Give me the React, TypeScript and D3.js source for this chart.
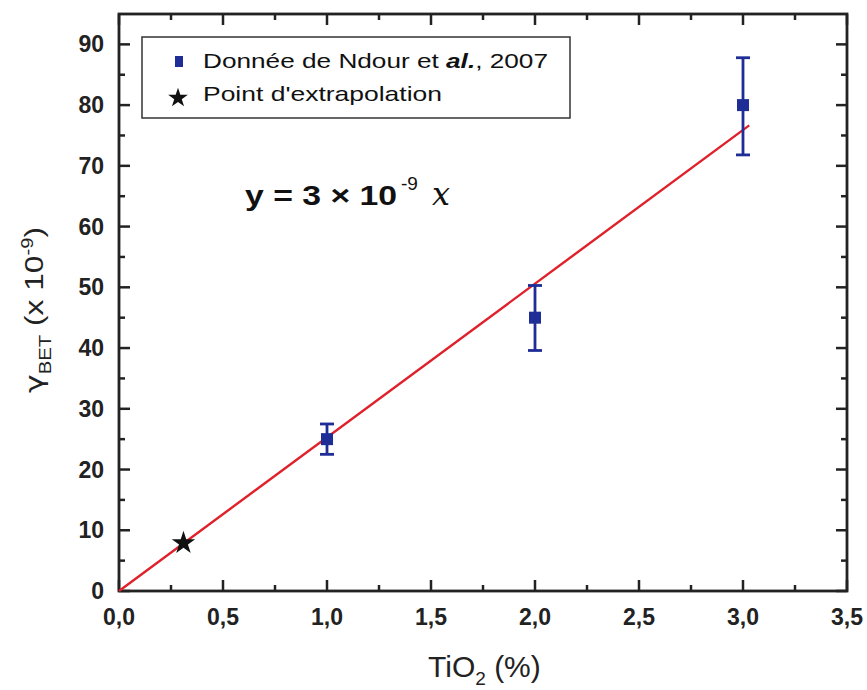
import React from "react";
import * as d3 from "d3";

const xData = [1, 2, 3];
const yData = [25, 45, 80];
const errLow = [22.5, 39.6, 71.8];
const errHigh = [27.5, 50.3, 87.8];
const starX = [0.31];
const starY = [7.9];
const fitSlope = 25.3;
const fitRange = [0, 3.03];
const xTicks = [0, 0.5, 1, 1.5, 2, 2.5, 3, 3.5];
const yTicks = [0, 10, 20, 30, 40, 50, 60, 70, 80, 90];

const W = 867, H = 690;
const M = { left: 119, right: 847, top: 14, bottom: 591 };

export default function App() {
  const x = d3.scaleLinear().domain([0, 3.5]).range([M.left, M.right]);
  const y = d3.scaleLinear().domain([0, 95]).range([M.bottom, M.top]);
  const xMinor = d3.range(0.25, 3.5, 0.5);
  const yMinor = d3.range(5, 95, 10);
  const line = d3.line<number>().x(d => x(d)).y(d => y(fitSlope * d));
  const star = d3.symbol().type(d3.symbolStar).size(170)() as string;
  const sq = 12;
  const font = "Arial, 'Liberation Sans', sans-serif";
  const navy = "#1f2d96";
  const ax = "#222";
  return (
    <svg width={W} height={H} style={{ position: "absolute", left: 0, top: 0 }} fontFamily={font}>
      <rect width={W} height={H} fill="#fff" />
      <rect x={M.left} y={M.top} width={M.right - M.left} height={M.bottom - M.top} fill="none" stroke={ax} strokeWidth={2.8} />
      {xTicks.map(t => (
        <g key={"xt" + t}>
          <line x1={x(t)} x2={x(t)} y1={M.bottom} y2={M.bottom - 11} stroke={ax} strokeWidth={2.5} />
          <line x1={x(t)} x2={x(t)} y1={M.top} y2={M.top + 11} stroke={ax} strokeWidth={2.5} />
          <text x={x(t)} y={M.bottom + 34} textAnchor="middle" fontSize={23} fontWeight="bold" fill={ax}>{d3.format(".1f")(t).replace(".", ",")}</text>
        </g>
      ))}
      {xMinor.map(t => (
        <g key={"xm" + t}>
          <line x1={x(t)} x2={x(t)} y1={M.bottom} y2={M.bottom - 6} stroke={ax} strokeWidth={2.5} />
          <line x1={x(t)} x2={x(t)} y1={M.top} y2={M.top + 6} stroke={ax} strokeWidth={2.5} />
        </g>
      ))}
      {yTicks.map(t => (
        <g key={"yt" + t}>
          <line x1={M.left} x2={M.left + 11} y1={y(t)} y2={y(t)} stroke={ax} strokeWidth={2.5} />
          <line x1={M.right} x2={M.right - 11} y1={y(t)} y2={y(t)} stroke={ax} strokeWidth={2.5} />
          <text x={M.left - 15} y={y(t) + 8} textAnchor="end" fontSize={23} fontWeight="bold" fill={ax}>{t}</text>
        </g>
      ))}
      {yMinor.map(t => (
        <g key={"ym" + t}>
          <line x1={M.left} x2={M.left + 6} y1={y(t)} y2={y(t)} stroke={ax} strokeWidth={2.5} />
          <line x1={M.right} x2={M.right - 6} y1={y(t)} y2={y(t)} stroke={ax} strokeWidth={2.5} />
        </g>
      ))}
      <path d={line(fitRange) as string} stroke="#e0202a" strokeWidth={2.4} fill="none" />
      {xData.map((d, i) => (
        <g key={"p" + i} stroke={navy} strokeWidth={2.8}>
          <line x1={x(d)} x2={x(d)} y1={y(errLow[i])} y2={y(errHigh[i])} />
          <line x1={x(d) - 7} x2={x(d) + 7} y1={y(errLow[i])} y2={y(errLow[i])} />
          <line x1={x(d) - 7} x2={x(d) + 7} y1={y(errHigh[i])} y2={y(errHigh[i])} />
          <rect x={x(d) - sq / 2} y={y(yData[i]) - sq / 2} width={sq} height={sq} fill={navy} stroke="none" />
        </g>
      ))}
      {starX.map((d, i) => (
        <path key={"s" + i} d={star} transform={`translate(${x(d)},${y(starY[i])})`} fill="#111" />
      ))}
      <rect x={142} y={37} width={428} height={81} fill="#fff" stroke="#333" strokeWidth={1.5} />
      <rect x={175} y={56} width={8} height={11} fill={navy} />
      <text x={203} y={68} fontSize={21} fill="#111" textLength={345} lengthAdjust="spacingAndGlyphs">
        Donnée de Ndour et <tspan fontWeight="bold" fontStyle="italic">al.</tspan>, 2007
      </text>
      <path d={d3.symbol().type(d3.symbolStar).size(120)() as string} transform="translate(178,98)" fill="#111" />
      <text x={203} y={101} fontSize={21} fill="#111" textLength={239} lengthAdjust="spacingAndGlyphs">Point d'extrapolation</text>
      <text x={245} y={205} fontSize={28} fontWeight="bold" fill="#111" textLength={152} lengthAdjust="spacingAndGlyphs">y = 3 × 10</text>
      <text x={401} y={190} fontSize={19} fill="#111">-9</text>
      <text x={432} y={205} fontSize={32} fontFamily="'DejaVu Serif', serif" fontStyle="italic" fill="#111">x</text>
      <text x={428} y={677} fontSize={30} fill={ax}>
        TiO<tspan dy={8} fontSize={19}>2</tspan><tspan dy={-8}> (%)</tspan>
      </text>
      <g transform="translate(43,310) rotate(-90)">
        <text x={0} y={0} textAnchor="middle" fontSize={25} fill={ax} textLength={166} lengthAdjust="spacingAndGlyphs">
          <tspan fontFamily="'DejaVu Sans', sans-serif">γ</tspan><tspan dy={8} fontSize={16}>BET</tspan><tspan dy={-8}> (x 10</tspan><tspan dy={-10} fontSize={16}>-9</tspan><tspan dy={10}>)</tspan>
        </text>
      </g>
    </svg>
  );
}
